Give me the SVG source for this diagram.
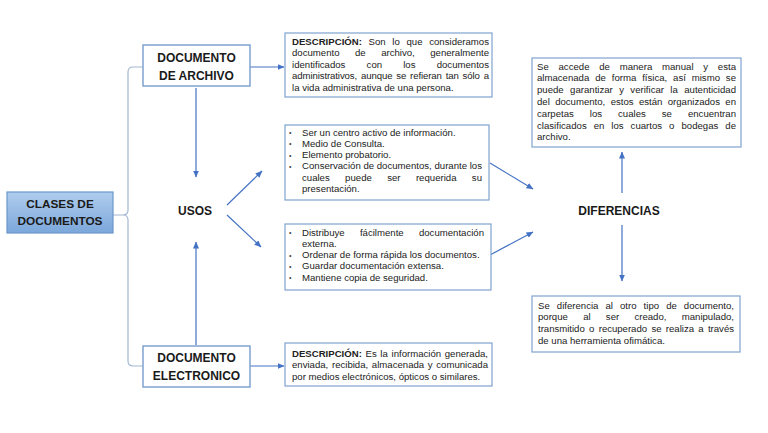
<svg xmlns="http://www.w3.org/2000/svg" width="768" height="433" viewBox="0 0 768 433">
<defs>
<linearGradient id="gBlue" x1="0" y1="0" x2="0" y2="1">
<stop offset="0" stop-color="#b0cdee"/>
<stop offset="1" stop-color="#7ba7da"/>
</linearGradient>
<marker id="ah" markerUnits="userSpaceOnUse" markerWidth="7" markerHeight="6" refX="6.5" refY="3" orient="auto">
<path d="M0,0 L7,3 L0,6 z" fill="#4472c4"/>
</marker>
</defs>
<style>
.nb{fill:#fff;stroke:#7fa3cf;stroke-width:1.5}
.db{fill:#fff;stroke:#7fa3cf;stroke-width:1.2}
.lbl{font-family:"Liberation Sans",Arial,sans-serif;font-weight:bold;font-size:12px;fill:#1a1a1a;text-anchor:middle}
.t{font-family:"Liberation Sans",Arial,sans-serif;font-size:9.6px;fill:#222}
.b{font-weight:bold}
.bul{font-family:"Liberation Sans",Arial,sans-serif;font-size:7px;fill:#444}
.ar{fill:none;stroke:#4472c4;stroke-width:1.2;marker-end:url(#ah)}
.br{fill:none;stroke:#a3b8d0;stroke-width:1.2}
</style>
<rect width="768" height="433" fill="#fff"/>

<g id="connectors">
<path class="br" d="M143,67 H133 Q128,67 128,72 V210 Q128,215 123,215 H113 M123,215 Q128,215 128,220 V361 Q128,366 133,366 H143"/>
<line class="ar" x1="250" y1="67" x2="284" y2="67"/>
<line class="ar" x1="250" y1="366" x2="284" y2="366"/>
<line class="ar" x1="196" y1="88" x2="196" y2="177"/>
<line class="ar" x1="196" y1="345" x2="196" y2="242"/>
<line class="ar" x1="227" y1="205" x2="262" y2="171"/>
<line class="ar" x1="227" y1="215" x2="261" y2="247"/>
<line class="ar" x1="490" y1="163" x2="533" y2="189"/>
<line class="ar" x1="490" y1="255" x2="533" y2="232"/>
<line class="ar" x1="622" y1="193" x2="622" y2="152"/>
<line class="ar" x1="622" y1="225" x2="622" y2="281"/>
</g>

<g id="clases">
<rect x="7" y="192" width="106" height="41" fill="url(#gBlue)" stroke="#6b96cb" stroke-width="1.2"/>
<text class="lbl" x="60" y="207.5" style="font-size:11.8px">CLASES DE</text>
<text class="lbl" x="60" y="225" style="font-size:11.8px">DOCUMENTOS</text>
</g>

<g id="doc-archivo">
<rect class="nb" x="143" y="45" width="107" height="41"/>
<text class="lbl" x="196.5" y="61.5">DOCUMENTO</text>
<text class="lbl" x="196.5" y="79.5">DE ARCHIVO</text>
</g>

<g id="doc-electronico">
<rect class="nb" x="143" y="346" width="107" height="41"/>
<text class="lbl" x="196.5" y="362">DOCUMENTO</text>
<text class="lbl" x="196.5" y="379.5">ELECTRONICO</text>
</g>

<g id="usos">
<text class="lbl" x="195" y="214.5">USOS</text>
</g>

<g id="diferencias">
<text class="lbl" x="619" y="214.5">DIFERENCIAS</text>
</g>

<g id="desc-archivo">
<rect class="db" x="285" y="33" width="207" height="64"/>
<text class="t" x="292" y="44.5" textLength="197" lengthAdjust="spacing" word-spacing="4"><tspan class="b">DESCRIPCIÓN:</tspan> Son lo que consideramos</text>
<text class="t" x="292" y="56" textLength="197" lengthAdjust="spacing" word-spacing="12.8">documento de archivo, generalmente</text>
<text class="t" x="292" y="67.5" textLength="197" lengthAdjust="spacing" word-spacing="18.5">identificados con los documentos</text>
<text class="t" x="292" y="79" textLength="197" lengthAdjust="spacing" word-spacing="1.3">administrativos, aunque se refieran tan sólo a</text>
<text class="t" x="292" y="90.5">la vida administrativa de una persona.</text>
</g>

<g id="usos-archivo">
<rect class="db" x="285" y="125" width="204" height="75"/>
<text class="bul" x="289" y="135">•</text>
<text class="bul" x="289" y="146.3">•</text>
<text class="bul" x="289" y="157.6">•</text>
<text class="bul" x="289" y="168.9">•</text>
<text class="t" x="302" y="135.5">Ser un centro activo de información.</text>
<text class="t" x="302" y="146.8">Medio de Consulta.</text>
<text class="t" x="302" y="158.1">Elemento probatorio.</text>
<text class="t" x="302" y="169.4" textLength="180" lengthAdjust="spacing">Conservación de documentos, durante los</text>
<text class="t" x="302" y="180.7" textLength="180" lengthAdjust="spacing" word-spacing="12.7">cuales puede ser requerida su</text>
<text class="t" x="302" y="192">presentación.</text>
</g>

<g id="usos-electronico">
<rect class="db" x="285" y="224" width="206" height="66"/>
<text class="bul" x="289" y="235">•</text>
<text class="bul" x="289" y="257.6">•</text>
<text class="bul" x="289" y="268.9">•</text>
<text class="bul" x="289" y="280.2">•</text>
<text class="t" x="302" y="235.5" textLength="182" lengthAdjust="spacing" word-spacing="12.6">Distribuye fácilmente documentación</text>
<text class="t" x="302" y="246.8">externa.</text>
<text class="t" x="302" y="258.1">Ordenar de forma rápida los documentos.</text>
<text class="t" x="302" y="269.4">Guardar documentación extensa.</text>
<text class="t" x="302" y="280.7">Mantiene copia de seguridad.</text>
</g>

<g id="dif-archivo">
<rect class="db" x="532" y="58" width="209" height="89"/>
<text class="t" x="537" y="69.5" textLength="199" lengthAdjust="spacing" word-spacing="7.1">Se accede de manera manual y esta</text>
<text class="t" x="537" y="81.3" textLength="199" lengthAdjust="spacing" word-spacing="3.2">almacenada de forma física, así mismo se</text>
<text class="t" x="537" y="93.1" textLength="199" lengthAdjust="spacing" word-spacing="3.7">puede garantizar y verificar la autenticidad</text>
<text class="t" x="537" y="104.9" textLength="199" lengthAdjust="spacing" word-spacing="2.7">del documento, estos están organizados en</text>
<text class="t" x="537" y="116.7" textLength="199" lengthAdjust="spacing" word-spacing="13.3">carpetas los cuales se encuentran</text>
<text class="t" x="537" y="128.5" textLength="199" lengthAdjust="spacing" word-spacing="4.3">clasificados en los cuartos o bodegas de</text>
<text class="t" x="537" y="140.3">archivo.</text>
</g>

<g id="dif-electronico">
<rect class="db" x="532" y="296" width="208" height="56"/>
<text class="t" x="538" y="308.5" textLength="196" lengthAdjust="spacing" word-spacing="4.4">Se diferencia al otro tipo de documento,</text>
<text class="t" x="538" y="320.3" textLength="196" lengthAdjust="spacing" word-spacing="12.6">porque al ser creado, manipulado,</text>
<text class="t" x="538" y="332.1" textLength="196" lengthAdjust="spacing" word-spacing="1.7">transmitido o recuperado se realiza a través</text>
<text class="t" x="538" y="343.9">de una herramienta ofimática.</text>
</g>

<g id="desc-electronico">
<rect class="db" x="285" y="343" width="207" height="43"/>
<text class="t" x="292" y="356.8" textLength="196" lengthAdjust="spacing" word-spacing="1"><tspan class="b">DESCRIPCIÓN:</tspan> Es la información generada,</text>
<text class="t" x="292" y="368.4" textLength="196" lengthAdjust="spacing" word-spacing="1">enviada, recibida, almacenada y comunicada</text>
<text class="t" x="292" y="380">por medios electrónicos, ópticos o similares.</text>
</g>
</svg>
